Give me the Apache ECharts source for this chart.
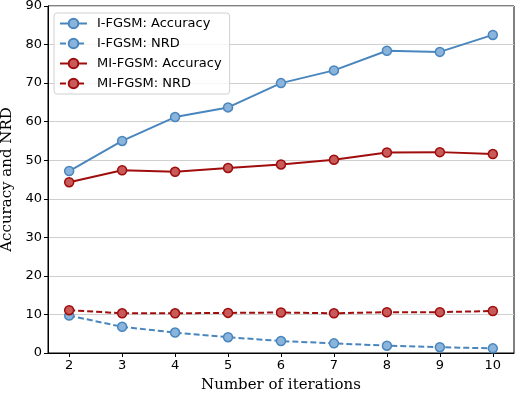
<!DOCTYPE html>
<html>
<head>
<meta charset="utf-8">
<script src="https://cdn.jsdelivr.net/npm/echarts@6/dist/echarts.min.js"></script>
<style>
  html, body { margin: 0; padding: 0; background: #fff; }
  #chart { width: 516px; height: 394px; }
</style>
</head>
<body>
<div id="chart"></div>
<script>
// values
const iterations = [2, 3, 4, 5, 6, 7, 8, 9, 10];
const iAcc = [47.2, 55.0, 61.2, 63.7, 70.0, 73.3, 78.4, 78.1, 82.5];
const iNrd = [9.7, 6.8, 5.3, 4.1, 3.1, 2.5, 1.9, 1.5, 1.2];
const miAcc = [44.3, 47.4, 47.0, 48.0, 48.9, 50.1, 52.0, 52.1, 51.6];
const miNrd = [11.1, 10.3, 10.3, 10.4, 10.5, 10.3, 10.6, 10.6, 10.9];
const yTicks = [0, 10, 20, 30, 40, 50, 60, 70, 80, 90];

const blue = '#4a86be';
const blueFill = '#8ab4dc';
const red = '#a00d0d';
const redFill = '#c85a5a';

const pairs = (ys) => iterations.map((x, i) => [x, ys[i]]);

function mkSeries(name, ys, color, fill, dashed) {
  return {
    name: name,
    type: 'line',
    data: pairs(ys),
    symbol: 'circle',
    symbolSize: 9,
    itemStyle: { color: fill, borderColor: color, borderWidth: 1.5 },
    lineStyle: { color: color, width: 2, type: dashed ? [6, 3] : 'solid' },
    emphasis: { disabled: true },
    z: 3
  };
}

const chart = echarts.init(document.getElementById('chart'));
chart.setOption({
  animation: false,
  grid: {
    left: 48, right: 2, top: 6, bottom: 41,
    outerBoundsMode: 'none',
    containLabel: false,
    show: true, borderColor: '#000', borderWidth: 1
  },
  legend: {
    orient: 'vertical',
    left: 54, top: 13,
    padding: [4, 8, 4, 5],
    itemWidth: 27, itemHeight: 12, itemGap: 7,
    borderColor: '#d0d0d0', borderWidth: 1, borderRadius: 3,
    backgroundColor: 'rgba(255,255,255,0.8)',
    textStyle: { fontFamily: 'DejaVu Sans', fontSize: 13, color: '#000', padding: [0, 0, 0, 5] },
    data: ['I-FGSM: Accuracy', 'I-FGSM: NRD', 'MI-FGSM: Accuracy', 'MI-FGSM: NRD']
  },
  xAxis: {
    type: 'value',
    min: 1.6, max: 10.4,
    name: 'Number of iterations',
    nameLocation: 'middle', nameGap: 25,
    nameTextStyle: { fontFamily: 'DejaVu Serif', fontSize: 15, color: '#000' },
    axisLine: { lineStyle: { color: '#000', width: 1 } },
    axisTick: { show: true, length: 4, customValues: iterations, lineStyle: { color: '#000' } },
    axisLabel: { customValues: iterations, fontFamily: 'DejaVu Sans', fontSize: 13, color: '#000', margin: 6 },
    splitLine: { show: false }
  },
  yAxis: {
    type: 'value',
    min: 0, max: 90, interval: 10,
    name: 'Accuracy and NRD',
    nameLocation: 'middle', nameGap: 32,
    nameTextStyle: { fontFamily: 'DejaVu Serif', fontSize: 15, color: '#000' },
    axisLine: { show: true, lineStyle: { color: '#000', width: 1 } },
    axisTick: { show: true, length: 4, lineStyle: { color: '#000' } },
    axisLabel: { fontFamily: 'DejaVu Sans', fontSize: 13, color: '#000', margin: 6,
      customValues: yTicks },
    splitLine: { show: true, lineStyle: { color: '#cfcfcf', width: 1 } }
  },
  series: [
    mkSeries('I-FGSM: Accuracy', iAcc, blue, blueFill, false),
    mkSeries('I-FGSM: NRD', iNrd, blue, blueFill, true),
    mkSeries('MI-FGSM: Accuracy', miAcc, red, redFill, false),
    mkSeries('MI-FGSM: NRD', miNrd, red, redFill, true)
  ]
});
</script>
</body>
</html>
